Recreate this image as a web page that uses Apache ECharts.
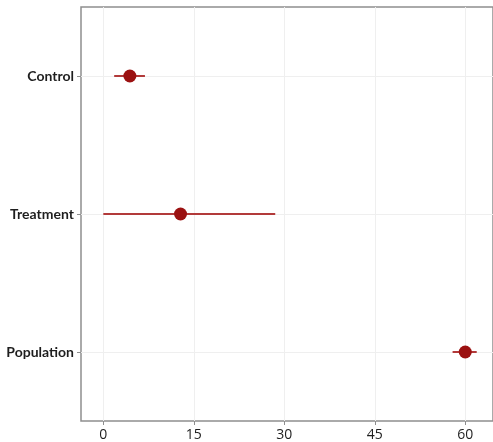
<!DOCTYPE html>
<html>
<head>
<meta charset="utf-8">
<script src="https://cdn.jsdelivr.net/npm/echarts@6/dist/echarts.min.js"></script>
<style>
  html, body { margin: 0; padding: 0; background: #fff; }
  #chart { width: 493px; height: 442px; }
</style>
</head>
<body>
<div id="chart"></div>
<script>
// groups, top to bottom
const groups = ['Control', 'Treatment', 'Population']
const estimate = [4.4, 12.8, 60.0]
const lower = [1.8, 0.0, 57.9]
const upper = [6.9, 28.5, 61.9]
const xTicks = [0, 15, 30, 45, 60]

const dotColor = '#9b1111'
const barColor = '#b23a3a'
const gridColor = '#efefef'
const frameColor = '#8e8e8e'
const ink = '#1e1e1e'

const chart = echarts.init(document.getElementById('chart'))

// one short line series per group for the interval
const barSeries = groups.map((g, i) => ({
  type: 'line',
  z: 2,
  silent: true,
  symbol: 'none',
  color: barColor,
  data: [[lower[i], g], [upper[i], g]],
  lineStyle: { color: barColor, width: 2, opacity: 1 },
}))

chart.setOption({
  animation: false,
  grid: {
    left: 81,
    right: -3,
    top: 7,
    bottom: 21,
    show: true,
    borderColor: frameColor,
    borderWidth: 1.5,
  },
  xAxis: {
    type: 'value',
    min: -3.7,
    max: 64.6,
    axisLine: { show: false, onZero: false },
    axisTick: {
      show: true,
      customValues: xTicks,
      length: 4,
      lineStyle: { color: frameColor },
    },
    axisLabel: {
      customValues: xTicks,
      color: ink,
      fontSize: 14,
      fontFamily: 'Open Sans',
      margin: 7,
    },
    splitLine: { show: false },
  },
  yAxis: {
    type: 'category',
    data: groups,
    inverse: true,
    axisLine: { show: false, onZero: false },
    axisTick: {
      show: true,
      alignWithLabel: true,
      length: 4,
      lineStyle: { color: frameColor },
    },
    axisLabel: {
      color: ink,
      fontSize: 14,
      fontWeight: 'bold',
      fontFamily: 'Lato',
      margin: 7,
    },
    splitLine: { show: false },
  },
  series: [
    {
      // background grid lines
      type: 'scatter',
      data: [],
      z: 0,
      silent: true,
      markLine: {
        symbol: 'none',
        label: { show: false },
        animation: false,
        z: 0,
        lineStyle: { color: gridColor, width: 1, type: 'solid' },
        data: [
          ...xTicks.map(v => ({ xAxis: v })),
          ...groups.map(g => ({ yAxis: g })),
        ],
      },
    },
    ...barSeries,
    {
      type: 'scatter',
      z: 3,
      data: groups.map((g, i) => [estimate[i], g]),
      symbol: 'circle',
      symbolSize: 13,
      itemStyle: { color: dotColor, opacity: 1 },
    },
  ],
})
</script>
</body>
</html>
